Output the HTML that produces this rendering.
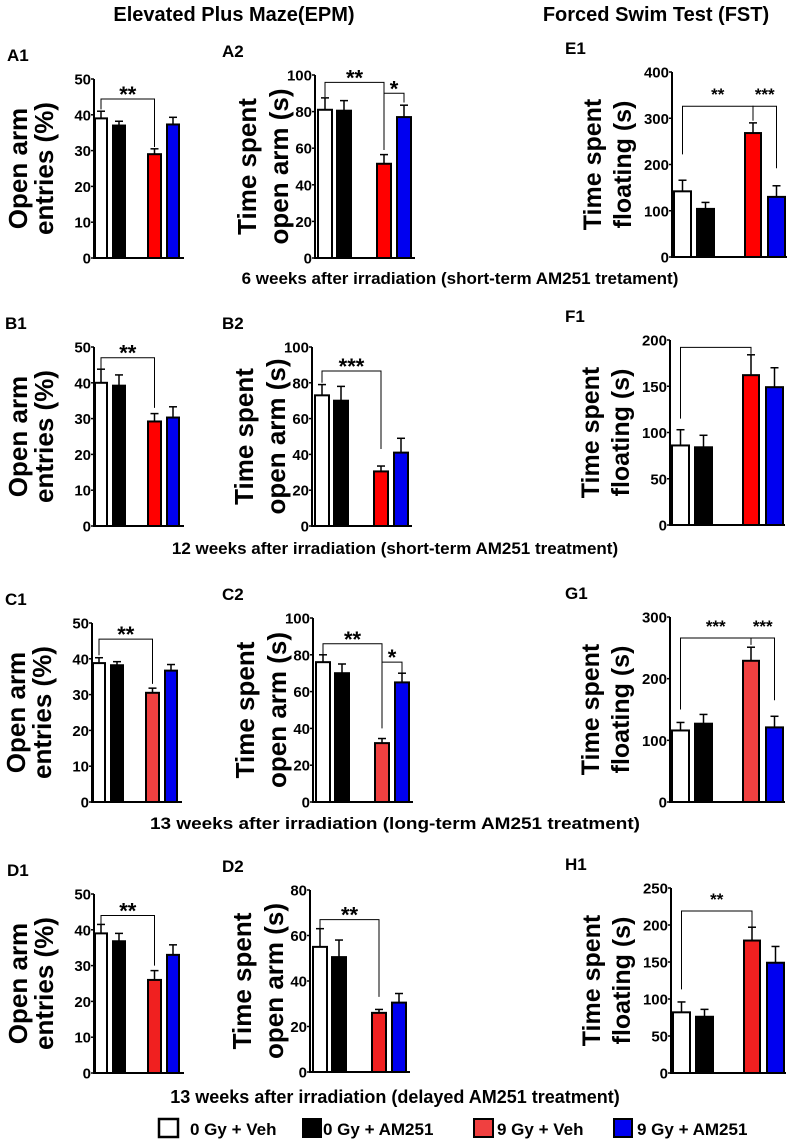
<!DOCTYPE html>
<html><head><meta charset="utf-8"><style>
html,body{margin:0;padding:0;background:#fff;}
svg{display:block;font-family:"Liberation Sans",Arial,sans-serif;font-weight:bold;}
</style></head><body>
<svg id="fig" width="790" height="1142" viewBox="0 0 790 1142" xmlns="http://www.w3.org/2000/svg">
<text x="234" y="21" font-size="20" text-anchor="middle">Elevated Plus Maze(EPM)</text>
<text x="656" y="21" font-size="20" text-anchor="middle">Forced Swim Test (FST)</text>
<text x="460" y="284" font-size="17" text-anchor="middle">6 weeks after irradiation (short-term AM251 tretament)</text>
<text x="395" y="554" font-size="17" text-anchor="middle">12 weeks after irradiation (short-term AM251 treatment)</text>
<text x="395" y="829" font-size="17" text-anchor="middle" textLength="490" lengthAdjust="spacingAndGlyphs">13 weeks after irradiation (long-term AM251 treatment)</text>
<text x="395" y="1103" font-size="18" text-anchor="middle">13 weeks after irradiation (delayed AM251 treatment)</text>
<g>
<rect x="159" y="1119" width="19" height="18" fill="#fff" stroke="#000" stroke-width="2.5"/>
<text x="190" y="1135" font-size="17">0 Gy + Veh</text>
<rect x="303" y="1119" width="18" height="18" fill="#000" stroke="#000" stroke-width="2"/>
<text x="323" y="1135" font-size="17">0 Gy + AM251</text>
<rect x="474" y="1119" width="19" height="18" fill="#f04040" stroke="#000" stroke-width="2"/>
<text x="497" y="1135" font-size="17">9 Gy + Veh</text>
<rect x="614" y="1119" width="18" height="18" fill="#0000f0" stroke="#000" stroke-width="2"/>
<text x="637" y="1135" font-size="17">9 Gy + AM251</text>
</g>
</svg>
<script>
// ---- data ----
const a1Values=[39,37,29,37.3]; const a1Errors=[2,1.2,1.5,2]; const a1Ticks=[0,10,20,30,40,50];
const a2Values=[81,80.5,51.5,77]; const a2Errors=[6.5,5.5,5,6.5]; const a2Ticks=[0,20,40,60,80,100];
const e1Values=[142,104,268,130]; const e1Errors=[24,14,22,24]; const e1Ticks=[0,100,200,300,400];
const b1Values=[40,39.2,29.2,30.3]; const b1Errors=[3.8,3,2.2,3]; const b1Ticks=[0,10,20,30,40,50];
const b2Values=[73,70,30.5,41]; const b2Errors=[6,8,3,8]; const b2Ticks=[0,20,40,60,80,100];
const f1Values=[86,84,162,149]; const f1Errors=[17,13,22,21]; const f1Ticks=[0,50,100,150,200];
const c1Values=[38.8,38.2,30.5,36.7]; const c1Errors=[1.5,1,1.3,1.7]; const c1Ticks=[0,10,20,30,40,50];
const c2Values=[76,70,32,65]; const c2Errors=[4,5,2.5,5]; const c2Ticks=[0,20,40,60,80,100];
const g1Values=[116,127,229,121]; const g1Errors=[13,15,22,18]; const g1Ticks=[0,100,200,300];
const d1Values=[39,36.8,26,33]; const d1Errors=[2.5,2.2,2.6,2.8]; const d1Ticks=[0,10,20,30,40,50];
const d2Values=[55,50.5,26,30.5]; const d2Errors=[8,7.5,1.5,4]; const d2Ticks=[0,20,40,60,80];
const h1Values=[82,76,179,149]; const h1Errors=[14,10,18,22]; const h1Ticks=[0,50,100,150,200,250];
// significance brackets: [fromBar, toBar, level, leftLegEnd, rightLegEnd, label]
const a1Sig=[[0,2,44.4,41.5,31,"**"]];
const a2Sig=[[0,2,96,88,61,"**"],[2,3,90,59,85,"*"]];
const e1Sig=[[0,2,326,222,295,"**"],[2,3,326,295,192,"***"]];
const b1Sig=[[0,2,47,44,33,"**"]];
const b2Sig=[[0,2,86.6,80,43,"***"]];
const f1Sig=[[0,2,192,115,185,""]];
const c1Sig=[[0,2,45.5,41,33,"**"]];
const c2Sig=[[0,2,86,79,40,"**"],[2,3,76,58,70,"*"]];
const g1Sig=[[0,2,266,150,255,"***"],[2,3,266,255,165,"***"]];
const d1Sig=[[0,2,44,41.5,30,"**"]];
const d2Sig=[[0,2,67,62.5,33,"**"]];
const h1Sig=[[0,2,219,113,197,"**"]];

const NS="http://www.w3.org/2000/svg";
const svg=document.getElementById('fig');
function mk(tag,attrs,parent){const e=document.createElementNS(NS,tag);for(const k in attrs)e.setAttribute(k,attrs[k]);(parent||svg).appendChild(e);return e;}
const colOff=[
 {bars:[[1,12],[19,12],[54,13],[73,12]],end:90,l1:-76,l2:-50,fs:26},
 {bars:[[3,14],[22,14],[62,14],[82,14]],end:100,l1:-68,l2:-36,fs:26},
 {bars:[[2,17],[25,17],[73,16],[96,17]],end:115,l1:-80,l2:-50,fs:25}
];
function panel(id,letter,letterX,col,ax,top,bot,values,errors,ticks,sigs,lab1,lab2,red){
  const g=mk('g',{});
  
  
  const c=colOff[col]; const max=ticks[ticks.length-1];
  const y=v=>bot-(v/max)*(bot-top);
  const L=mk('text',{x:letterX,y:top-18,'font-size':17},g); L.textContent=letter;
  
  
  const cy=(top+bot)/2;
  const t1=mk('text',{x:0,y:0,'font-size':c.fs,'text-anchor':'middle',transform:`translate(${ax+c.l1+9},${cy}) rotate(-90)`},g); t1.textContent=lab1;
  
  
  const t2=mk('text',{x:0,y:0,'font-size':c.fs,'text-anchor':'middle',transform:`translate(${ax+c.l2+9},${cy}) rotate(-90)`},g); t2.textContent=lab2;
  
  
  const fills=['#fff','#000',red,'#0000f0'];
  values.forEach((v,i)=>{
    const [o,w]=c.bars[i]; const x=ax+o; const xc=x+w/2;
    const ey=y(v+errors[i]);
    const el=mk('line',{x1:xc,x2:xc,y1:y(v),y2:ey,stroke:'#000','stroke-width':1.5},g);
    
    
    const cap=mk('line',{x1:xc-4,x2:xc+4,y1:ey,y2:ey,stroke:'#000','stroke-width':1.5},g);
    
    
    const r=mk('rect',{x:x,y:y(v),width:w,height:bot-y(v),fill:fills[i],stroke:'#000','stroke-width':2},g);
    
    
  });
  const axl=mk('path',{d:`M${ax},${top}V${bot}H${ax+c.end}`,fill:'none',stroke:'#000','stroke-width':2},g);
  
  
  ticks.forEach(t=>{
    const ty=y(t);
    const tl=mk('line',{x1:ax-3,x2:ax,y1:ty,y2:ty,stroke:'#000','stroke-width':1.5},g);
    
    
    const tt=mk('text',{x:ax-3,y:ty+5.5,'font-size':15,'text-anchor':'end'},g); tt.textContent=t;
    
    
  });
  sigs.forEach(s=>{
    const [a,b,lv,le,re,lab]=s;
    const xa=ax+c.bars[a][0]+c.bars[a][1]/2, xb=ax+c.bars[b][0]+c.bars[b][1]/2;
    const p=mk('path',{d:`M${xa},${y(le)}V${y(lv)}H${xb}V${y(re)}`,fill:'none',stroke:'#000','stroke-width':1},g);
    
    
    if(lab){
      const st=mk('text',{x:(xa+xb)/2,y:y(lv)-3+(col==2?-3:6),'font-size':col==2?17:22,'text-anchor':'middle'},g); st.textContent=lab;
      
      
    }
  });
}
panel('a1','A1',7,0,94,79,258,a1Values,a1Errors,a1Ticks,a1Sig,'Open arm','entries (%)','#ff0000');
panel('a2','A2',222,1,315,75,258,a2Values,a2Errors,a2Ticks,a2Sig,'Time spent','open arm (s)','#ff0000');
panel('e1','E1',565,2,672,72,257,e1Values,e1Errors,e1Ticks,e1Sig,'Time spent','floating (s)','#ff0000');
panel('b1','B1',5,0,94,347,526,b1Values,b1Errors,b1Ticks,b1Sig,'Open arm','entries (%)','#ff0000');
panel('b2','B2',222,1,312,347,526,b2Values,b2Errors,b2Ticks,b2Sig,'Time spent','open arm (s)','#ff0000');
panel('f1','F1',565,2,670,340,525,f1Values,f1Errors,f1Ticks,f1Sig,'Time spent','floating (s)','#ff0000');
panel('c1','C1',5,0,92,623,802,c1Values,c1Errors,c1Ticks,c1Sig,'Open arm','entries (%)','#f04040');
panel('c2','C2',222,1,313,618,802,c2Values,c2Errors,c2Ticks,c2Sig,'Time spent','open arm (s)','#f04040');
panel('g1','G1',565,2,670,617,802,g1Values,g1Errors,g1Ticks,g1Sig,'Time spent','floating (s)','#f04040');
panel('d1','D1',7,0,94,894,1073,d1Values,d1Errors,d1Ticks,d1Sig,'Open arm','entries (%)','#f02020');
panel('d2','D2',222,1,310,890,1072,d2Values,d2Errors,d2Ticks,d2Sig,'Time spent','open arm (s)','#f02020');
panel('h1','H1',565,2,671,888,1073,h1Values,h1Errors,h1Ticks,h1Sig,'Time spent','floating (s)','#f02020');
</script>
</body></html>
